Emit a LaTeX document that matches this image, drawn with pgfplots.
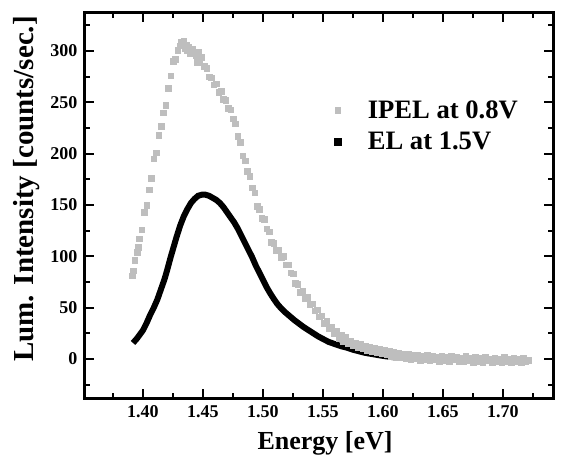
\documentclass[border=0pt]{standalone}
\usepackage{pgfplots}
\pgfplotsset{compat=1.18}
\usepackage{fontspec}
\setmainfont{Liberation Serif}
\definecolor{ipel}{RGB}{190,190,190}
\pgfplotstableread{
x y
1.3917 15.6
1.395 20
1.400 28
1.403 35
1.406 43
1.409 50
1.412 58
1.415 68
1.418 78
1.420 86
1.423 99
1.426 111
1.428 119
1.431 130
1.434 139
1.437 146
1.440 152
1.443 156
1.446 159
1.449 160
1.452 160
1.455 159
1.458 157
1.461 155
1.464 152
1.467 148
1.470 143
1.473 138
1.476 133
1.479 127
1.482 120
1.485 113
1.488 106
1.491 99
1.494 91
1.497 84
1.500 77
1.503 70
1.506 64
1.509 58.5
1.512 53.5
1.515 49.5
1.518 46
1.522 42
1.526 38
1.530 34.5
1.534 31
1.538 28
1.542 25
1.546 22
1.550 19.5
1.555 16.5
1.560 14.5
1.565 12.5
1.570 11
1.575 9
1.580 7.5
1.585 6
1.590 5
1.595 4
1.600 3
1.610 1.5
1.620 1
1.640 0.5
1.660 0
1.680 -0.5
1.700 -1
1.720 -1
}\eltable
\pgfplotstableread{
x y
1.391 81
1.392 86
1.393 96
1.395 104
1.396 109
1.397 117
1.399 126
1.401 143
1.403 150
1.405 165
1.407 176
1.409 195
1.411 201
1.413 218
1.415 227
1.417 240
1.419 247
1.421 264
1.423 276
1.425 290
1.427 292
1.429 301
1.431 305
1.432 309
1.433 307
1.434 310
1.435 303
1.436 306
1.437 301
1.438 304
1.439 298
1.441 302
1.443 299
1.444 296
1.445 289
1.446 299
1.447 292
1.449 294
1.451 285
1.453 283
1.455 275
1.457 274
1.459 267
1.461 268
1.463 260
1.465 261
1.467 253
1.469 252
1.471 244
1.473 243
1.475 234
1.477 229
1.479 217
1.481 211
1.483 198
1.485 193
1.487 183
1.489 178
1.491 167
1.493 162
1.495 149
1.497 146
1.499 137
1.501 136
1.503 127
1.505 124
1.507 114
1.509 113
1.511 106
1.513 106
1.515 99
1.517 100
1.519 92
1.521 92
1.523 84
1.525 83
1.527 74
1.529 73
1.531 65
1.533 66
1.535 59
1.537 60
1.539 53
1.541 54
1.543 47
1.545 48
1.547 41
1.549 42
1.551 35
1.553 37
1.555 30
1.557 31
1.559 25
1.561 27
1.563 20
1.565 23
1.567 17
1.569 21
1.571 15
1.573 18
1.575 13
1.577 16
1.579 11
1.581 15
1.583 10
1.585 13
1.587 8
1.589 12
1.591 7
1.593 11
1.595 6
1.597 10
1.599 5
1.601 9
1.603 4
1.605 8
1.607 3
1.609 7
1.611 2
1.613 6
1.615 2
1.617 5
1.619 1
1.621 5
1.623 0
1.625 4
1.627 1
1.629 4
1.631 -1
1.633 3
1.635 0
1.637 4
1.639 -1
1.641 3
1.643 0
1.645 2
1.647 -2
1.649 3
1.651 -1
1.653 2
1.655 -2
1.657 3
1.659 0
1.661 2
1.663 -2
1.665 1
1.667 -2
1.669 3
1.671 -1
1.673 1
1.675 -3
1.677 2
1.679 -2
1.681 1
1.683 -3
1.685 2
1.687 -1
1.689 0
1.691 -3
1.693 1
1.695 -2
1.697 0
1.699 -3
1.701 2
1.703 -2
1.705 0
1.707 -3
1.709 1
1.711 -2
1.713 0
1.715 -3
1.717 1
1.719 -2
1.721 -1
}\ipeltable
\begin{document}
\begin{tikzpicture}
\useasboundingbox (-85bp,-59bp) rectangle (478bp,398bp);
\begin{axis}[
  scale only axis,
  width=468bp, height=385bp,
  xmin=1.35167, xmax=1.74167,
  ymin=-38, ymax=337,
  xtick={1.40,1.45,1.50,1.55,1.60,1.65,1.70},
  minor xtick={1.375,1.425,1.475,1.525,1.575,1.625,1.675,1.725},
  ytick={0,50,100,150,200,250,300},
  minor ytick={-25,25,75,125,175,225,275,325},
  xtick pos=both, ytick pos=both,
  xticklabel pos=lower, yticklabel pos=left,
  tick align=inside,
  major tick length=9bp, minor tick length=5bp,
  every tick/.style={black, line width=2.2bp},
  axis line style={line width=3bp},
  /pgf/number format/assume math mode=true,
  xticklabel style={/pgf/number format/.cd, fixed, fixed zerofill, precision=2, /tikz/.cd, font=\fontsize{18bp}{20bp}\selectfont\bfseries, yshift=-4bp},
  yticklabel style={font=\fontsize{18bp}{20bp}\selectfont\bfseries, xshift=-4bp},
  scaled x ticks=false,
  xlabel={Energy [eV]},
  ylabel={Lum. Intensity [counts/sec.]},
  xlabel style={font=\fontsize{26bp}{28bp}\selectfont\bfseries, at={(axis description cs:0.513,-0.117)}, anchor=center},
  ylabel style={font=\fontsize{29bp}{31bp}\selectfont\bfseries, at={(axis description cs:-0.124,0.543)}, anchor=center, rotate=0},
  legend style={draw=none, fill=none, at={(axis description cs:0.526,0.783)}, anchor=north west,
    font=\fontsize{26.6bp}{28bp}\selectfont\bfseries, row sep=8bp},
  legend cell align=left,
  legend image code/.code={\path[draw=none] (0bp,0bp) -- (28bp,0bp); \path[#1, draw=none] plot coordinates {(0bp,0bp)};},
]
\addplot[black, line width=6bp, forget plot] table[x=x,y=y] {\eltable};
\addplot[only marks, mark=square*, mark size=2.8bp, color=ipel] table[x=x,y=y] {\ipeltable};
\addlegendentry{IPEL at 0.8V}
\addlegendimage{only marks, mark=square*, mark size=3.5bp, black}
\addlegendentry{EL at 1.5V}
\end{axis}
\end{tikzpicture}
\end{document}
